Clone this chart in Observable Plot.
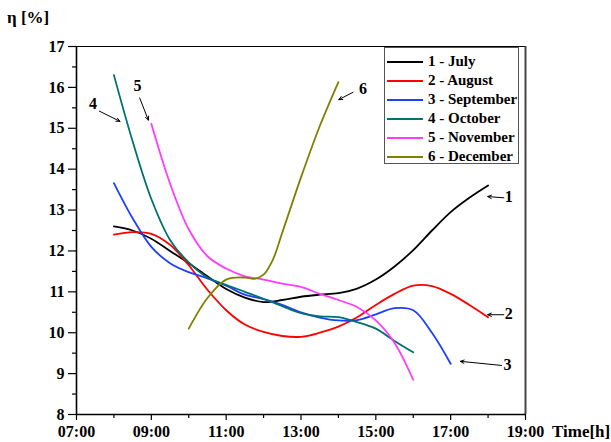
<!DOCTYPE html>
<html>
<head>
<meta charset="utf-8">
<script src="https://cdn.jsdelivr.net/npm/d3@7"></script>
<script src="https://cdn.jsdelivr.net/npm/@observablehq/plot@0.6"></script>
<style>
  html, body { margin: 0; padding: 0; background: #fff; }
  #wrap { position: relative; width: 611px; height: 442px; font-family: "Liberation Serif", "DejaVu Serif", serif; font-weight: bold; }
  #legend { position: absolute; left: 384px; top: 47px; width: 135px; height: 117px; border: 1px solid #555; background: #fff; box-sizing: border-box; padding-top: 4px; overflow: hidden; }
  .row { height: 19px; display: flex; align-items: center; font-size: 15px; color: #000; white-space: nowrap; }
  .sw { display: inline-block; flex: none; width: 36px; height: 0; border-top: 2px solid; margin-left: 2px; margin-right: 5px; }
  .lab { position: absolute; font-size: 17px; font-weight: bold; color: #000; white-space: nowrap; }
</style>
</head>
<body>
<div id="wrap"></div>
<script>
// ---- data ----
const seriesNames = ["1 - July", "2 - August", "3 - September", "4 - October", "5 - November", "6 - December"];
const seriesColors = ["#000000", "#ff0000", "#1f3fff", "#007070", "#ff3cff", "#808000"];

const julyHours = [8, 8.5, 9, 9.5, 10, 10.5, 11, 11.5, 12, 12.5, 13, 13.5, 14, 14.5, 15, 15.5, 16, 16.5, 17, 17.5, 18];
const julyValues = [12.6, 12.5, 12.3, 12.0, 11.7, 11.38, 11.07, 10.86, 10.75, 10.8, 10.88, 10.93, 10.97, 11.08, 11.3, 11.62, 12.02, 12.5, 12.95, 13.3, 13.6];

const augustHours = [8, 8.5, 9, 9.5, 10, 10.5, 11, 11.5, 12, 12.5, 13, 13.5, 14, 14.5, 15, 15.5, 16, 16.5, 17, 17.5, 18];
const augustValues = [12.4, 12.46, 12.42, 12.15, 11.65, 11.05, 10.55, 10.2, 10.02, 9.92, 9.9, 10.0, 10.15, 10.38, 10.68, 10.95, 11.15, 11.14, 10.95, 10.68, 10.38];

const septemberHours = [8, 8.5, 9, 9.5, 10, 10.5, 11, 11.5, 12, 12.5, 13, 13.5, 14, 14.5, 15, 15.5, 16, 16.5, 17];
const septemberValues = [13.66, 12.8, 12.1, 11.7, 11.48, 11.33, 11.15, 10.93, 10.82, 10.68, 10.5, 10.37, 10.3, 10.31, 10.45, 10.6, 10.55, 10.0, 9.24];

const octoberHours = [8, 8.5, 9, 9.5, 10, 10.5, 11, 11.5, 12, 12.5, 13, 13.5, 14, 14.5, 15, 15.5, 16];
const octoberValues = [16.3, 14.68, 13.27, 12.27, 11.72, 11.35, 11.17, 11.0, 10.83, 10.65, 10.48, 10.4, 10.38, 10.26, 10.1, 9.8, 9.52];

const novemberHours = [9, 9.5, 10, 10.5, 11, 11.5, 12, 12.5, 13, 13.5, 14, 14.5, 15, 15.5, 16];
const novemberValues = [15.11, 13.65, 12.53, 11.87, 11.57, 11.38, 11.3, 11.2, 11.12, 10.95, 10.8, 10.63, 10.3, 9.75, 8.85];

const decemberHours = [10, 10.5, 11, 11.5, 11.75, 12, 12.25, 12.5, 13, 13.5, 14];
const decemberValues = [10.1, 10.85, 11.3, 11.35, 11.32, 11.42, 11.79, 12.45, 13.8, 15.05, 16.13];

const yMajorTicks = [8, 9, 10, 11, 12, 13, 14, 15, 16, 17];
const yMinorTicks = [8.5, 9.5, 10.5, 11.5, 12.5, 13.5, 14.5, 15.5, 16.5];
const xMajorTicks = [7, 9, 11, 13, 15, 17, 19];
const xMinorTicks = [8, 10, 12, 14, 16, 18];
const xTickLabels = ["07:00", "09:00", "11:00", "13:00", "15:00", "17:00", "19:00"];

// curve labels with arrows (data coordinates)
const annLabels = ["4", "5", "6", "1", "2", "3"];
const annTextX = [7.44, 8.63, 14.66, 18.55, 18.55, 18.52];
const annTextY = [15.6, 16.04, 15.96, 13.33, 10.46, 9.22];
const annX1 = [7.61, 8.69, 14.39, 18.42, 18.42, 18.36];
const annY1 = [15.42, 15.74, 15.88, 13.3, 10.44, 9.2];
const annX2 = [8.16, 8.92, 14.01, 17.99, 17.99, 17.26];
const annY2 = [15.17, 15.2, 15.7, 13.33, 10.44, 9.3];

// ---- build tables ----
const allHours = [julyHours, augustHours, septemberHours, octoberHours, novemberHours, decemberHours];
const allValues = [julyValues, augustValues, septemberValues, octoberValues, novemberValues, decemberValues];
const lineData = [];
seriesNames.forEach((name, i) => {
  allHours[i].forEach((h, j) => lineData.push({name, color: seriesColors[i], h, v: allValues[i][j]}));
});
const ann = annLabels.map((label, i) => ({label, tx: annTextX[i], ty: annTextY[i], x1: annX1[i], y1: annY1[i], x2: annX2[i], y2: annY2[i]}));

const fmt = d => xTickLabels[xMajorTicks.indexOf(d)];

const chart = Plot.plot({
  width: 611,
  height: 442,
  marginLeft: 76,
  marginRight: 86,
  marginTop: 46,
  marginBottom: 28,
  x: {domain: [7, 19]},
  y: {domain: [8, 17]},
  color: {type: "identity"},
  style: {fontFamily: "'Liberation Serif', 'DejaVu Serif', serif", background: "#fff", color: "#000"},
  marks: [
    Plot.axisY({ticks: yMajorTicks, tickSize: 8, tickPadding: 4, fontSize: 16, fontWeight: "bold", label: null, strokeWidth: 1.2}),
    Plot.axisY({ticks: yMinorTicks, tickSize: 4, text: null, label: null, strokeWidth: 1.2}),
    Plot.axisX({ticks: xMajorTicks, tickSize: 6, tickPadding: 5, tickFormat: fmt, fontSize: 16, fontWeight: "bold", label: null, strokeWidth: 1.2}),
    Plot.axisX({ticks: xMinorTicks, tickSize: 4, text: null, label: null, strokeWidth: 1.2}),
    Plot.ruleY([17], {stroke: "#000", strokeWidth: 1.2}),
    Plot.ruleX([19], {stroke: "#444", strokeWidth: 2}),
    Plot.ruleX([7], {stroke: "#000", strokeWidth: 1.6}),
    Plot.ruleY([8], {stroke: "#000", strokeWidth: 1.6}),
    Plot.line(lineData, {x: "h", y: "v", z: "name", stroke: "color", curve: "catmull-rom", strokeWidth: 1.8}),
    Plot.arrow(ann, {x1: "x1", y1: "y1", x2: "x2", y2: "y2", stroke: "#000", strokeWidth: 1, headLength: 6, headAngle: 50}),
    Plot.text(ann, {x: "tx", y: "ty", text: "label", fontSize: 16, fontWeight: "bold", fill: "#000"})
  ]
});

const wrap = document.getElementById("wrap");
wrap.appendChild(chart);

// axis titles
const yl = document.createElement("div");
yl.className = "lab"; yl.style.left = "7px"; yl.style.top = "8px"; yl.textContent = "η [%]";
wrap.appendChild(yl);
const xl = document.createElement("div");
xl.className = "lab"; xl.style.left = "552px"; xl.style.top = "422px"; xl.textContent = "Time[h]";
wrap.appendChild(xl);

// legend
const lg = document.createElement("div");
lg.id = "legend";
seriesNames.forEach((n, i) => {
  const r = document.createElement("div");
  r.className = "row";
  const s = document.createElement("span");
  s.className = "sw"; s.style.borderTopColor = seriesColors[i];
  const t = document.createElement("span");
  t.textContent = n;
  r.appendChild(s); r.appendChild(t);
  lg.appendChild(r);
});
wrap.appendChild(lg);
</script>
</body>
</html>
